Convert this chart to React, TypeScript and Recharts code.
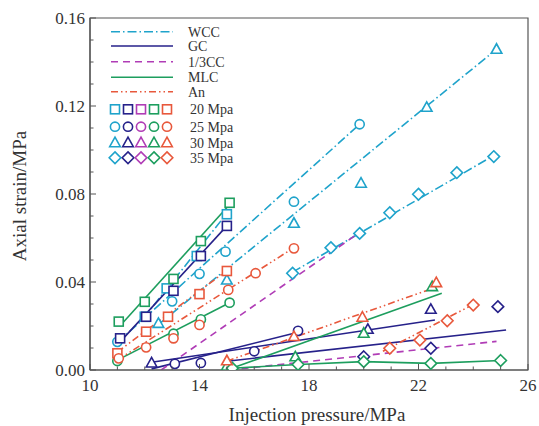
import { ComposedChart, Line, Scatter, XAxis, YAxis, ReferenceArea } from 'recharts';

type Pt = [number, number]; // [injection pressure (MPa), axial strain]

// axis ticks
const X_TICKS = [10, 11, 12, 13, 14, 15, 16, 17, 18, 19, 20, 21, 22, 23, 24, 25, 26];
const X_LABELS = [10, 14, 18, 22, 26];
const Y_TICKS = [0, 0.01, 0.02, 0.03, 0.04, 0.05, 0.06, 0.07, 0.08, 0.09, 0.1, 0.11, 0.12, 0.13, 0.14, 0.15, 0.16];
const Y_LABELS = [0, 0.04, 0.08, 0.12, 0.16];

const MATERIALS = ['WCC', 'GC', '1/3CC', 'MLC', 'An'];
const PRESSURES = ['20 Mpa', '25 Mpa', '30 Mpa', '35 Mpa'];

// WCC
const WCC_20: Pt[] = [[12.0, 0.0242], [12.8, 0.0371], [13.9, 0.0518], [15.0, 0.0708]];
const WCC_20_FIT: Pt[] = [[11.95, 0.0235], [15.0, 0.0712]];
const WCC_25: Pt[] = [[11.0, 0.0128], [13.0, 0.0312], [14.0, 0.0437], [14.95, 0.0538], [17.45, 0.0765], [19.85, 0.1117]];
const WCC_25_FIT: Pt[] = [[11.0, 0.0125], [19.85, 0.1117]];
const WCC_30: Pt[] = [[12.5, 0.0212], [15.0, 0.0409], [17.45, 0.0667], [19.9, 0.0849], [22.3, 0.1194], [24.85, 0.1458]];
const WCC_30_FIT: Pt[] = [[12.5, 0.0207], [24.85, 0.1458]];
const WCC_35: Pt[] = [[17.4, 0.044], [18.8, 0.0556], [19.85, 0.0621], [20.95, 0.0715], [22.0, 0.0799], [23.4, 0.0897], [24.75, 0.097]];
const WCC_35_FIT: Pt[] = [[17.4, 0.0445], [24.75, 0.0975]];

// GC
const GC_20: Pt[] = [[11.1, 0.0144], [12.05, 0.0242], [13.05, 0.036], [14.05, 0.0518], [15.0, 0.0655]];
const GC_20_FIT: Pt[] = [[11.1, 0.0128], [15.0, 0.0655]];
const GC_25: Pt[] = [[13.1, 0.0028], [14.05, 0.0032], [16.0, 0.0085], [17.6, 0.0178]];
const GC_25_FIT: Pt[] = [[12.25, 0.0005], [17.6, 0.0172]];
const GC_30: Pt[] = [[12.25, 0.0032], [20.15, 0.0185], [22.45, 0.0276]];
const GC_30_FIT: Pt[] = [[12.25, 0.0035], [22.6, 0.0227]];
const GC_35: Pt[] = [[15.15, 0.0005], [20.0, 0.006], [22.45, 0.0099], [24.9, 0.0288]];
const GC_35_FIT: Pt[] = [[15.0, 0.004], [25.2, 0.0182]];

// 1/3CC (lines only)
const CC13_A: Pt[] = [[12.6, 0.0], [19.85, 0.0625]];
const CC13_B: Pt[] = [[15.1, 0.0], [24.85, 0.013]];

// MLC
const MLC_20: Pt[] = [[11.05, 0.022], [12.0, 0.031], [13.05, 0.0414], [14.05, 0.0586], [15.1, 0.076]];
const MLC_20_FIT: Pt[] = [[11.2, 0.0215], [15.1, 0.0752]];
const MLC_25: Pt[] = [[11.0, 0.0041], [13.05, 0.0165], [14.05, 0.023], [15.1, 0.0306]];
const MLC_25_FIT: Pt[] = [[11.0, 0.0045], [15.1, 0.0306]];
const MLC_30: Pt[] = [[15.0, 0.0018], [17.5, 0.006], [20.0, 0.0167], [22.5, 0.0379]];
const MLC_30_FIT: Pt[] = [[15.0, 0.0], [22.85, 0.0349]];
const MLC_35: Pt[] = [[15.2, 0.0008], [17.6, 0.0025], [20.0, 0.0038], [22.45, 0.003], [25.0, 0.0043]];

// An
const AN_20: Pt[] = [[11.0, 0.0076], [12.05, 0.0174], [12.85, 0.0242], [14.0, 0.0345], [15.0, 0.045]];
const AN_20_FIT: Pt[] = [[11.0, 0.0082], [15.0, 0.0452]];
const AN_25: Pt[] = [[11.05, 0.0053], [12.05, 0.0103], [13.05, 0.0144], [14.0, 0.0205], [15.05, 0.0364], [16.05, 0.044], [17.45, 0.0553]];
const AN_25_FIT: Pt[] = [[11.0, 0.0045], [17.45, 0.0556]];
const AN_30: Pt[] = [[15.0, 0.0042], [17.45, 0.0152], [19.95, 0.024], [22.65, 0.0397]];
const AN_30_FIT: Pt[] = [[15.0, 0.004], [22.5, 0.037]];
const AN_35: Pt[] = [[20.95, 0.0099], [22.05, 0.0136], [23.05, 0.0224], [24.0, 0.0295]];
const AN_35_FIT: Pt[] = [[20.7, 0.0085], [24.0, 0.0298]];

const COLORS: Record<string, string> = {
  WCC: '#1fa3cb',
  GC: '#26218a',
  '1/3CC': '#b03cb6',
  MLC: '#1d9e5e',
  An: '#e8583c',
};
const DASH: Record<string, string | undefined> = {
  WCC: '9 3 1.5 3',
  GC: undefined,
  '1/3CC': '7 5',
  MLC: undefined,
  An: '7 3 1.5 3 1.5 3',
};
const SHAPES = ['square', 'circle', 'triangle', 'diamond'];

const SERIES = [
  { mat: 'WCC', shape: 'square', pts: WCC_20, line: WCC_20_FIT },
  { mat: 'WCC', shape: 'circle', pts: WCC_25, line: WCC_25_FIT },
  { mat: 'WCC', shape: 'triangle', pts: WCC_30, line: WCC_30_FIT },
  { mat: 'WCC', shape: 'diamond', pts: WCC_35, line: WCC_35_FIT },
  { mat: 'GC', shape: 'square', pts: GC_20, line: GC_20_FIT },
  { mat: 'GC', shape: 'circle', pts: GC_25, line: GC_25_FIT },
  { mat: 'GC', shape: 'triangle', pts: GC_30, line: GC_30_FIT },
  { mat: 'GC', shape: 'diamond', pts: GC_35, line: GC_35_FIT },
  { mat: '1/3CC', shape: 'none', pts: [] as Pt[], line: CC13_A },
  { mat: '1/3CC', shape: 'none', pts: [] as Pt[], line: CC13_B },
  { mat: 'MLC', shape: 'square', pts: MLC_20, line: MLC_20_FIT },
  { mat: 'MLC', shape: 'circle', pts: MLC_25, line: MLC_25_FIT },
  { mat: 'MLC', shape: 'triangle', pts: MLC_30, line: MLC_30_FIT },
  { mat: 'MLC', shape: 'diamond', pts: MLC_35, line: MLC_35 },
  { mat: 'An', shape: 'square', pts: AN_20, line: AN_20_FIT },
  { mat: 'An', shape: 'circle', pts: AN_25, line: AN_25_FIT },
  { mat: 'An', shape: 'triangle', pts: AN_30, line: AN_30_FIT },
  { mat: 'An', shape: 'diamond', pts: AN_35, line: AN_35_FIT },
];

const rows = (pts: Pt[]) => pts.map(([p, s]) => ({ p, s }));

const AXIS = '#555';
const TEXT = '#333';
const FONT = '"Liberation Serif", "Times New Roman", serif';

function Marker({ cx, cy, kind, color }: { cx: number; cy: number; kind: string; color: string }) {
  const st = { fill: '#fff', stroke: color, strokeWidth: 1.6 };
  if (kind === 'square') return <rect x={cx - 4.5} y={cy - 4.5} width={9} height={9} {...st} />;
  if (kind === 'circle') return <circle cx={cx} cy={cy} r={4.6} {...st} />;
  if (kind === 'triangle')
    return <polygon points={`${cx},${cy - 5.5} ${cx + 5.3},${cy + 4} ${cx - 5.3},${cy + 4}`} {...st} />;
  return <polygon points={`${cx},${cy - 5.8} ${cx + 5.8},${cy} ${cx},${cy + 5.8} ${cx - 5.8},${cy}`} {...st} />;
}

const XTick = ({ x, y, payload }: any) => {
  const major = X_LABELS.includes(payload.value);
  return (
    <g>
      <line x1={x} x2={x} y1={y} y2={y - (major ? 6 : 3.5)} stroke={AXIS} strokeWidth={1} />
      {major && (
        <text x={x} y={y + 21} textAnchor="middle" fontSize={17} fill={TEXT} fontFamily={FONT}>
          {payload.value}
        </text>
      )}
    </g>
  );
};

const YTick = ({ x, y, payload }: any) => {
  const major = Y_LABELS.some(v => Math.abs(v - payload.value) < 1e-6);
  return (
    <g>
      <line x1={x} x2={x + (major ? 6 : 3.5)} y1={y} y2={y} stroke={AXIS} strokeWidth={1} />
      {major && (
        <text x={x - 5} y={y + 6} textAnchor="end" fontSize={17} fill={TEXT} fontFamily={FONT}>
          {payload.value.toFixed(2)}
        </text>
      )}
    </g>
  );
};

// legend rows (line samples, then marker rows)
const LEG_LINE_Y = [31.7, 46, 61.7, 77.3, 91.7];
const LEG_MARK_Y = [109.3, 126.7, 142.7, 157.7];

function Overlay() {
  return (
    <svg width={539} height={426} style={{ position: 'absolute', left: 0, top: 0, pointerEvents: 'none' }}>
      {MATERIALS.map((m, i) => (
        <g key={m}>
          <line x1={111} x2={173} y1={LEG_LINE_Y[i]} y2={LEG_LINE_Y[i]} stroke={COLORS[m]} strokeWidth={1.6} strokeDasharray={DASH[m]} />
          <text x={188} y={LEG_LINE_Y[i] + 5} fontSize={14} fill={TEXT} fontFamily={FONT}>{m}</text>
        </g>
      ))}
      {PRESSURES.map((p, i) => (
        <g key={p}>
          {MATERIALS.map((m, j) => (
            <Marker key={m} cx={115 + j * 13} cy={LEG_MARK_Y[i]} kind={SHAPES[i]} color={COLORS[m]} />
          ))}
          <text x={190} y={LEG_MARK_Y[i] + 5} fontSize={14} fill={TEXT} fontFamily={FONT}>{p}</text>
        </g>
      ))}
      <text transform="translate(19,196) rotate(-90)" textAnchor="middle" dy="0.35em" fontSize={19} fill={TEXT} fontFamily={FONT}>
        Axial strain/MPa
      </text>
      <text x={317} y={421} textAnchor="middle" fontSize={19} fill={TEXT} fontFamily={FONT}>
        Injection pressure/MPa
      </text>
    </svg>
  );
}

export default function App() {
  return (
    <div style={{ position: 'absolute', left: 0, top: 0, width: 539, height: 426, background: '#fff' }}>
      <ComposedChart width={539} height={426} margin={{ top: 18, right: 11, left: 30, bottom: 26 }}>
        <XAxis
          dataKey="p"
          type="number"
          domain={[10, 26]}
          ticks={X_TICKS}
          interval={0}
          tick={<XTick />}
          tickSize={0}
          tickMargin={0}
          tickLine={false}
          axisLine={{ stroke: AXIS, strokeWidth: 1.2 }}
          height={30}
          allowDataOverflow
        />
        <YAxis
          type="number"
          domain={[0, 0.16]}
          ticks={Y_TICKS}
          interval={0}
          tick={<YTick />}
          tickSize={0}
          tickMargin={0}
          tickLine={false}
          axisLine={{ stroke: AXIS, strokeWidth: 1.2 }}
          width={60}
          allowDataOverflow
        />
        <ReferenceArea x1={10} x2={26} y1={0} y2={0.16} fill="none" stroke={AXIS} strokeWidth={1.2} />
        {SERIES.map((s, i) => (
          <Line
            key={'l' + i}
            data={rows(s.line)}
            dataKey="s"
            type="linear"
            stroke={COLORS[s.mat]}
            strokeWidth={1.6}
            strokeDasharray={DASH[s.mat]}
            dot={false}
            activeDot={false}
            isAnimationActive={false}
          />
        ))}
        {SERIES.filter(s => s.pts.length > 0).map((s, i) => (
          <Scatter
            key={'m' + i}
            data={rows(s.pts)}
            dataKey="s"
            shape={(p: any) => <Marker cx={p.cx} cy={p.cy} kind={s.shape} color={COLORS[s.mat]} />}
            isAnimationActive={false}
          />
        ))}
      </ComposedChart>
      <Overlay />
    </div>
  );
}
